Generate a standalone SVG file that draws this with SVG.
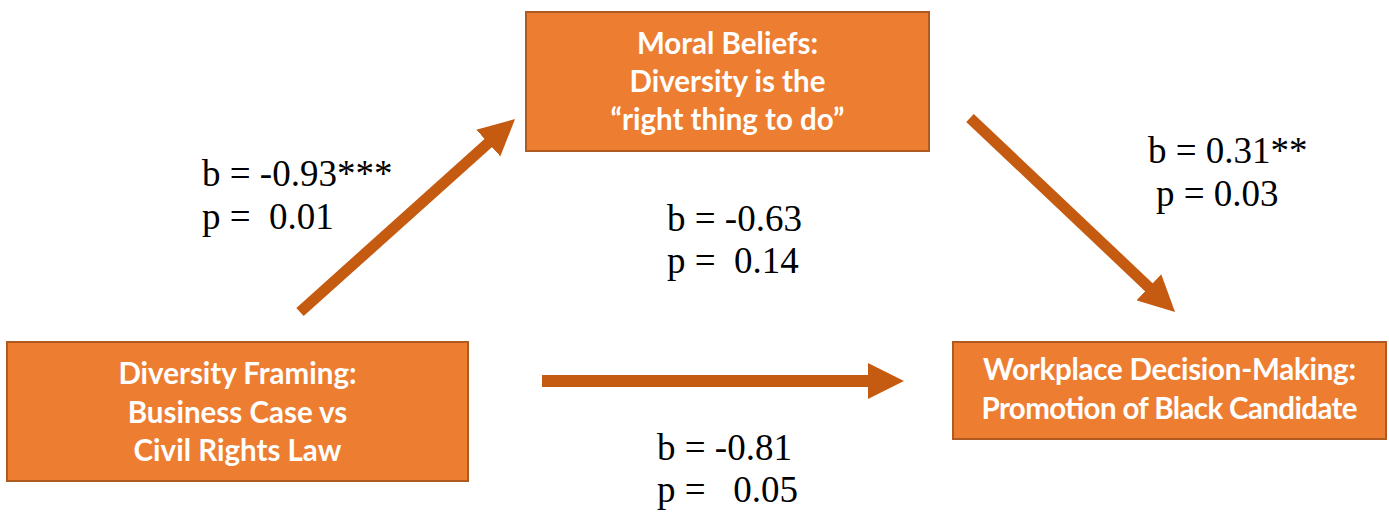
<svg xmlns="http://www.w3.org/2000/svg" width="1389" height="512" viewBox="0 0 1389 512">
  <style>
    .box { fill: #ED7D31; stroke: #AE5A21; stroke-width: 2; }
    .boxtext { font-family: Lato, "Open Sans", sans-serif; font-weight: bold; font-size: 29.5px; fill: #FFFFFF; text-anchor: middle; }
    .stat { font-family: "Liberation Serif", "Times New Roman", serif; font-size: 37px; fill: #000000; white-space: pre; }
    .arrow { stroke: #C55A11; fill: none; stroke-linecap: butt; }
  </style>
  <defs>
    <marker id="head" markerUnits="userSpaceOnUse" markerWidth="36" markerHeight="36" viewBox="0 0 36 36" refX="1" refY="18" orient="auto">
      <path d="M0,0 L36,18 L0,36 Z" fill="#C55A11"/>
    </marker>
  </defs>

  <!-- connectors -->
  <g id="connectors">
    <line class="arrow" x1="300" y1="312" x2="489" y2="142.4" stroke-width="11" marker-end="url(#head)"/>
    <line class="arrow" x1="970" y1="118" x2="1149.6" y2="287.9" stroke-width="11" marker-end="url(#head)"/>
    <line class="arrow" x1="542" y1="381" x2="869" y2="381" stroke-width="12" marker-end="url(#head)"/>
  </g>

  <!-- mediator -->
  <g id="moral-beliefs">
    <rect class="box" x="526" y="12" width="403" height="139"/>
    <text class="boxtext" x="727.5" y="54">Moral Beliefs:</text>
    <text class="boxtext" x="727.5" y="92">Diversity is the</text>
    <text class="boxtext" x="727.5" y="130">“right thing to do”</text>
  </g>

  <!-- independent variable -->
  <g id="diversity-framing">
    <rect class="box" x="7" y="342" width="461" height="139"/>
    <text class="boxtext" x="237.5" y="384">Diversity Framing:</text>
    <text class="boxtext" x="237.5" y="423">Business Case vs</text>
    <text class="boxtext" x="237.5" y="461">Civil Rights Law</text>
  </g>

  <!-- outcome -->
  <g id="workplace-decision">
    <rect class="box" x="953" y="342" width="433" height="97"/>
    <text class="boxtext" x="1169.5" y="380" textLength="373" lengthAdjust="spacing">Workplace Decision-Making:</text>
    <text class="boxtext" x="1169.5" y="419" textLength="376" lengthAdjust="spacing">Promotion of Black Candidate</text>
  </g>

  <!-- path coefficients -->
  <g id="coef-a">
    <text class="stat" x="202" y="186">b = -0.93***</text>
    <text class="stat" x="202" y="229">p =  0.01</text>
  </g>
  <g id="coef-c">
    <text class="stat" x="667" y="231">b = -0.63</text>
    <text class="stat" x="667" y="273">p =  0.14</text>
  </g>
  <g id="coef-b">
    <text class="stat" x="1148" y="163">b = 0.31**</text>
    <text class="stat" x="1156" y="206">p = 0.03</text>
  </g>
  <g id="coef-cprime">
    <text class="stat" x="657" y="460">b = -0.81</text>
    <text class="stat" x="657" y="502">p =   0.05</text>
  </g>
</svg>
